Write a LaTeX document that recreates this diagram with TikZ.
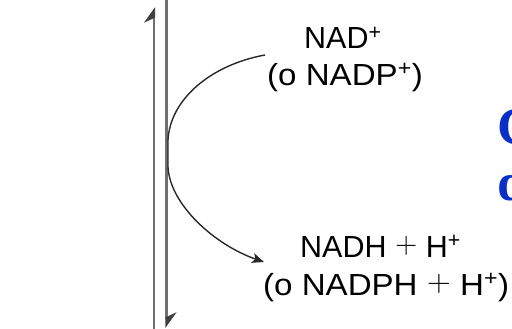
\documentclass[tikz,border=0pt]{standalone}
\usepackage{fontspec}
\usepackage{graphicx}
\setmainfont{Liberation Sans}
\newfontfamily\headserif{Liberation Serif}
\newfontfamily\plusfont{Latin Modern Sans}
\usetikzlibrary{arrows.meta}
\definecolor{railgray}{RGB}{112,112,112}
\definecolor{curvegray}{RGB}{40,40,40}
\definecolor{titleblue}{RGB}{8,48,200}
\newcommand{\plussign}{\raisebox{4pt}{\plusfont +}}
\newcommand{\widetext}[1]{\scalebox{1.085}[1]{#1}}
\tikzset{
  rail/.style={draw=railgray, line width=2.6pt},
  railtip/.style={-{Stealth[harpoon, length=14pt, width=20pt, color=black!75]}},
  flow/.style={draw=curvegray, line width=1.4pt,
    -{Stealth[length=12pt, width=10pt, inset=3pt]}},
  label/.style={inner sep=0pt, anchor=base west,
    font=\fontsize{30.5}{36}\selectfont},
  heading/.style={inner sep=0pt, anchor=base west, text=titleblue,
    font=\headserif\bfseries\fontsize{53}{55}\selectfont}
}
\begin{document}
\begin{tikzpicture}[x=1pt, y=-1pt]
  \useasboundingbox (0,0) rectangle (512,329);
  \clip (0,0) rectangle (512,329);

  % two antiparallel strands
  \coordinate (lbot) at (154,335);
  \coordinate (ltop) at (154,7);
  \coordinate (rtop) at (166.5,-3);
  \coordinate (rbot) at (166.5,328);
  \draw[rail, railtip] (lbot) -- (ltop);
  \draw[rail, railtip] (rtop) -- (rbot);

  % cofactor labels
  \node[label] (top1) at (304,49) {NAD\textsuperscript{+}};
  \node[label] (top2) at (267,85) {\widetext{(o NADP\textsuperscript{+})}};
  \node[label] (bot1) at (300,257) {NADH \plussign{} H\textsuperscript{+}};
  \node[label] (bot2) at (263,295) {\widetext{(o NADPH \plussign{} H\textsuperscript{+})}};

  % reduction arrow bending along the strand
  \coordinate (cin) at (265,55);
  \coordinate (cout) at (264,262);
  \draw[flow] (cin) .. controls (210,65) and (170,100) .. (168,140)
    -- (168,167) .. controls (170,205) and (215,245) .. (cout);

  % heading letters at the right border
  \node[heading] (h1) at (497,145) {C};
  \node[heading] (h2) at (497,200) {d};
\end{tikzpicture}
\end{document}
